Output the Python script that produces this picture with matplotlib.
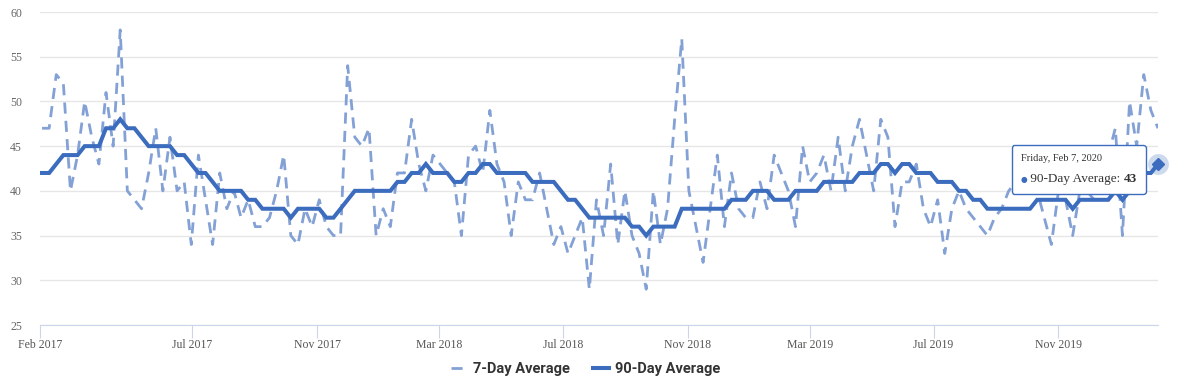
import pandas as pd
import matplotlib
matplotlib.use("Agg")
import matplotlib.pyplot as plt
import matplotlib.dates as mdates
from matplotlib.offsetbox import TextArea, HPacker, VPacker, AnnotationBbox

# Weekly points (Fridays), Feb 3 2017 .. Feb 7 2020
dates = pd.date_range("2017-02-03", periods=158, freq="7D")

avg_7 = [
    47, 47, 53, 52, 40, 44, 50, 46, 43, 51,
    45, 58, 40, 39, 38, 42, 47, 40, 46, 40,
    41, 34, 44, 39, 34, 42, 38, 40, 37, 39,
    36, 36, 37, 40, 44, 35, 34, 38, 36, 39,
    36, 35, 35, 54, 46, 45, 47, 35, 38, 36,
    42, 42, 48, 43, 40, 44, 43, 42, 41, 35,
    44, 45, 42, 49, 43, 41, 35, 41, 39, 39,
    42, 38, 34, 36, 33, 35, 37, 29, 39, 35,
    43, 34, 40, 35, 33, 29, 40, 34, 38, 48,
    57, 40, 36, 32, 38, 44, 36, 42, 38, 37,
    37, 41, 38, 44, 42, 40, 36, 45, 41, 42,
    44, 40, 46, 40, 45, 48, 44, 40, 48, 46,
    36, 41, 41, 43, 38, 36, 39, 33, 38, 40,
    38, 37, 36, 35, 37, 38, 40, 41, 41, 40,
    40, 37, 34, 40, 39, 35, 40, 40, 39, 40,
    44, 47, 35, 50, 45, 53, 49, 47,
]

avg_90 = [
    42, 42, 43, 44, 44, 44, 45, 45, 45, 47,
    47, 48, 47, 47, 46, 45, 45, 45, 45, 44,
    44, 43, 42, 42, 41, 40, 40, 40, 40, 39,
    39, 38, 38, 38, 38, 37, 38, 38, 38, 38,
    37, 37, 38, 39, 40, 40, 40, 40, 40, 40,
    41, 41, 42, 42, 43, 42, 42, 42, 41, 41,
    42, 42, 43, 43, 42, 42, 42, 42, 42, 41,
    41, 41, 41, 40, 39, 39, 38, 37, 37, 37,
    37, 37, 37, 36, 36, 35, 36, 36, 36, 36,
    38, 38, 38, 38, 38, 38, 38, 39, 39, 39,
    40, 40, 40, 39, 39, 39, 40, 40, 40, 40,
    41, 41, 41, 41, 41, 42, 42, 42, 43, 43,
    42, 43, 43, 42, 42, 42, 41, 41, 41, 40,
    40, 39, 39, 38, 38, 38, 38, 38, 38, 38,
    39, 39, 39, 39, 39, 38, 39, 39, 39, 39,
    39, 40, 39, 40, 40, 42, 42, 43,
]

tick_dates = ["2017-02-01", "2017-07-01", "2017-11-01", "2018-03-01", "2018-07-01",
              "2018-11-01", "2019-03-01", "2019-07-01", "2019-11-01"]
tick_labels = ["Feb 2017", "Jul 2017", "Nov 2017", "Mar 2018", "Jul 2018",
               "Nov 2018", "Mar 2019", "Jul 2019", "Nov 2019"]
y_ticks = [25, 30, 35, 40, 45, 50, 55, 60]

BLUE = "#3b6cbe"
LIGHT = "#84a1d6"
SERIF = ["Liberation Serif", "DejaVu Serif"]

fig = plt.figure(figsize=(11.8, 3.89), dpi=100)
ax = fig.add_axes([40 / 1180, 1 - 325 / 389, 1118 / 1180, 313 / 389])

ax.plot(dates, avg_7, color=LIGHT, lw=2.0, dashes=(4, 2.6), label="7-Day Average", zorder=2)
ax.plot(dates, avg_90, color=BLUE, lw=2.9, label="90-Day Average", zorder=3,
        solid_joinstyle="miter")

# hovered point
ax.plot(dates[-1], avg_90[-1], "o", ms=15, color=BLUE, alpha=0.25, mec="none",
        clip_on=False, zorder=4)
ax.plot(dates[-1], avg_90[-1], "D", ms=6, color=BLUE, clip_on=False, zorder=5)

ax.set_ylim(25, 60)
ax.set_xlim(pd.Timestamp("2017-02-01"), dates[-1])
ax.set_yticks(y_ticks)
ax.set_xticks(pd.to_datetime(tick_dates))
ax.set_xticklabels(tick_labels)

ax.grid(axis="y", color="#e6e6e6", lw=1)
ax.set_axisbelow(True)
for s in ["top", "right", "left"]:
    ax.spines[s].set_visible(False)
ax.spines["bottom"].set_color("#ccd6eb")
ax.tick_params(axis="x", length=9, color="#ccd6eb", pad=1, labelsize=8.5, labelcolor="#555555")
ax.tick_params(axis="y", length=0, pad=13, labelsize=8.5, labelcolor="#666666")
for lab in ax.get_xticklabels() + ax.get_yticklabels():
    lab.set_family(SERIF)

# tooltip
t1 = TextArea("Friday, Feb 7, 2020", textprops=dict(family=SERIF, size=7.5, color="#333333"))
dot = TextArea("\u25CF", textprops=dict(family="DejaVu Sans", size=5.5, color=BLUE))
t2 = TextArea(" 90-Day Average: ", textprops=dict(family=SERIF, size=9.5, color="#333333"))
t3 = TextArea("43", textprops=dict(family=SERIF, size=9.5, color="#333333", weight="bold"))
row = HPacker(children=[dot, t2, t3], align="baseline", pad=0, sep=0)
box = VPacker(children=[t1, row], align="left", pad=2.5, sep=7)
ab = AnnotationBbox(box, (mdates.date2num(dates[-1]), avg_90[-1]),
                    xybox=(-57, -4), boxcoords="offset points",
                    frameon=True, pad=0.4,
                    bboxprops=dict(edgecolor=BLUE, facecolor="white", lw=1,
                                   boxstyle="round,pad=0.4,rounding_size=0.2"),
                    annotation_clip=False, zorder=6)
ax.add_artist(ab)

leg = fig.legend(loc="center", bbox_to_anchor=(0.496, 0.052), ncol=2, frameon=False,
                 handlelength=1.1, handletextpad=0.4, columnspacing=1.6,
                 prop=dict(family=["Roboto", "DejaVu Sans"], weight="bold", size=10.5))
for t in leg.get_texts():
    t.set_color("#333333")

fig.savefig("out.png", dpi=100)
